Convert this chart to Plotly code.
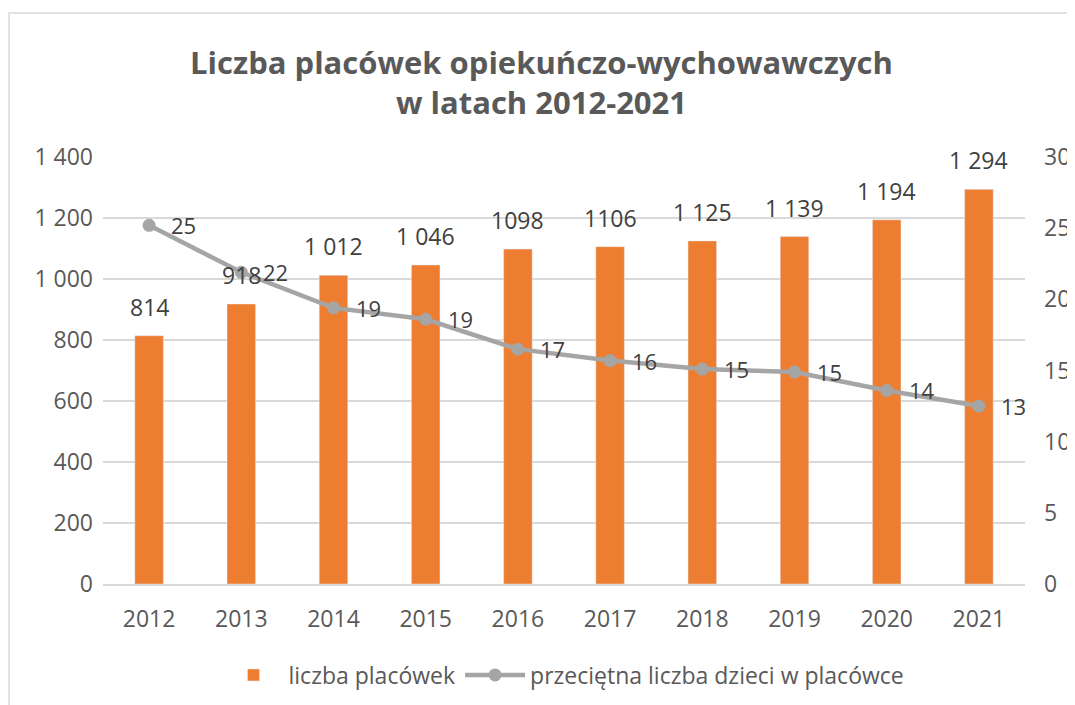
import plotly.graph_objects as go

years = ["2012", "2013", "2014", "2015", "2016", "2017", "2018", "2019", "2020", "2021"]
placowki = [814, 918, 1012, 1046, 1098, 1106, 1125, 1139, 1194, 1294]
placowki_labels = ["814", "918", "1 012", "1 046", "1098", "1106", "1 125", "1 139", "1 194", "1 294"]
dzieci = [25.2, 21.9, 19.4, 18.6, 16.5, 15.7, 15.1, 14.9, 13.6, 12.5]
dzieci_labels = ["25", "22", "19", "19", "17", "16", "15", "15", "14", "13"]

FONT = "Open Sans"
TXT = "#595959"
LBL = "#404040"

W, H = 1067, 697  # page body has an 8px margin
L, R, T, B = 95, 50, 149, 121
PW, PH = W - L - R, H - T - B

fig = go.Figure()
fig.add_trace(go.Bar(
    x=years, y=placowki, name="liczba placówek",
    marker=dict(color="#ED7D31"), width=0.31, yaxis="y",
))
fig.add_trace(go.Scatter(
    x=years, y=dzieci, name="przeciętna liczba dzieci w placówce",
    mode="lines+markers", yaxis="y2",
    line=dict(color="#A5A5A5", width=4.5),
    marker=dict(color="#A5A5A5", size=13),
))

annotations = []
for i, (v, t) in enumerate(zip(placowki, placowki_labels)):
    annotations.append(dict(x=i, y=v, xref="x", yref="y", text=t, showarrow=False,
                            yanchor="bottom", yshift=11,
                            font=dict(family=FONT, size=23, color=LBL)))
for i, (v, t) in enumerate(zip(dzieci, dzieci_labels)):
    annotations.append(dict(x=i, y=v, xref="x", yref="y2", text=t, showarrow=False,
                            xanchor="left", yanchor="middle", xshift=20,
                            font=dict(family=FONT, size=22, color=LBL)))

fig.update_layout(
    width=W, height=H,
    margin=dict(l=L, r=R, t=T, b=B, autoexpand=False),
    paper_bgcolor="white", plot_bgcolor="white",
    separators=", ",
    font=dict(family=FONT, color=TXT),
    title=dict(
        text="<b>Liczba placówek opiekuńczo-wychowawczych<br>w latach 2012-2021</b>",
        x=0.5, xanchor="center", y=1 - 66 / H, yanchor="middle",
        font=dict(family=FONT, size=31, color=TXT),
    ),
    xaxis=dict(
        type="category", range=[-0.5, len(years) - 0.5], automargin=False,
        showgrid=False, showline=True, linecolor="#D9D9D9", linewidth=1.5,
        ticks="", tickfont=dict(family=FONT, size=23, color=TXT),
        ticklabelstandoff=14,
    ),
    yaxis=dict(
        range=[0, 1400], dtick=200, tickformat=",d", automargin=False,
        showgrid=True, gridcolor="#D9D9D9", gridwidth=1.5,
        zeroline=False, showline=False, ticks="",
        tickfont=dict(family=FONT, size=23, color=TXT),
        ticklabelstandoff=9,
    ),
    yaxis2=dict(
        range=[0, 30], dtick=5, overlaying="y", side="right", automargin=False,
        showgrid=False, zeroline=False, showline=False, ticks="",
        tickfont=dict(family=FONT, size=23, color=TXT),
        ticklabelstandoff=18,
    ),
    legend=dict(
        orientation="h", x=0.5, xanchor="center",
        yref="container", y=1 - 667 / H, yanchor="middle",
        font=dict(family=FONT, size=23, color=TXT),
        itemwidth=60, traceorder="normal",
    ),
    annotations=annotations,
    shapes=[dict(type="rect", xref="paper", yref="paper",
                 x0=(1 - L) / PW, x1=(W + 10 - L) / PW,
                 y0=-(B + 10) / PH, y1=(PH + T - 5) / PH,
                 line=dict(color="#D9D9D9", width=1.5), fillcolor="rgba(0,0,0,0)")],
)

fig.write_html("out.html")
